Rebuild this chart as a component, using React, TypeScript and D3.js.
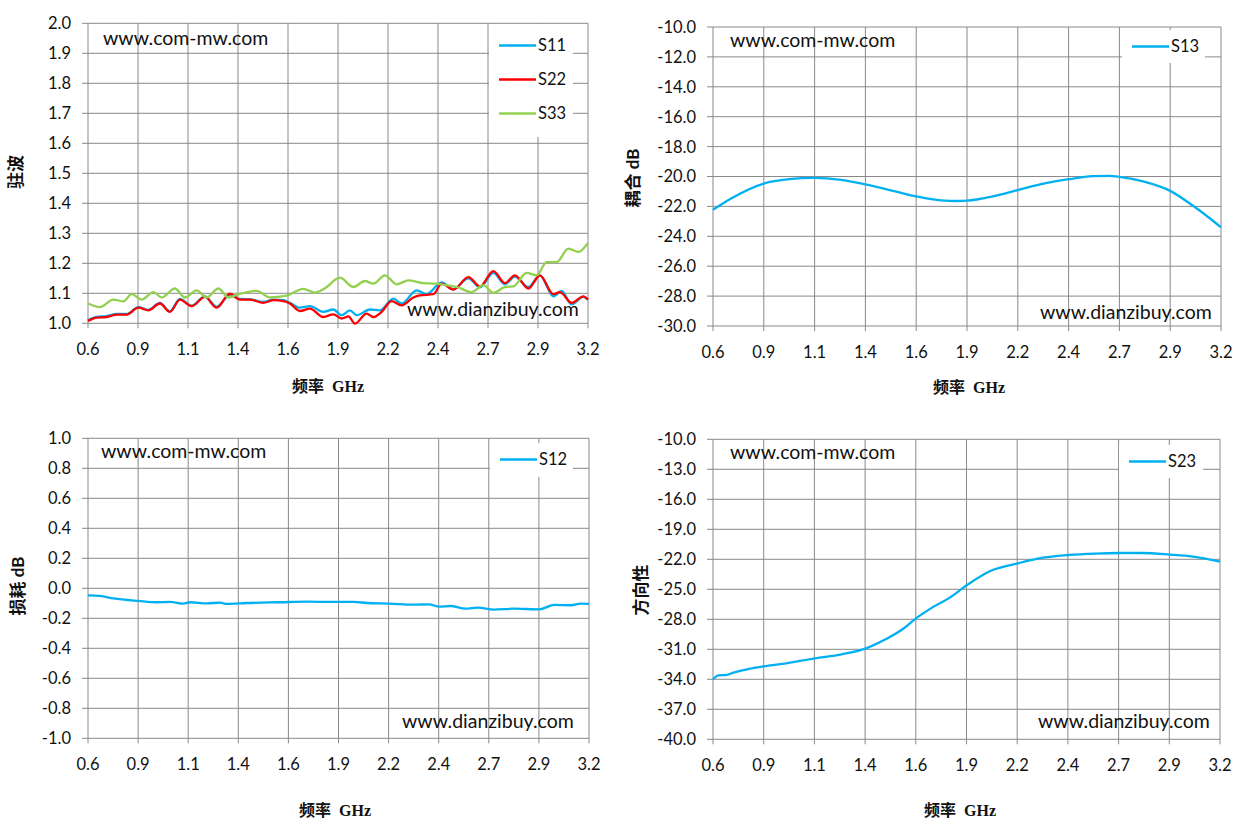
import { useEffect, useRef } from 'react'
import * as d3 from 'd3'

// S11 / S22 / S33 standing wave (VSWR)
const s11Freq = [0.600, 0.645, 0.697, 0.749, 0.801, 0.862, 0.914, 0.974, 1.026, 1.078, 1.139, 1.208, 1.269, 1.338, 1.390, 1.442, 1.512, 1.564, 1.616, 1.650, 1.702, 1.754, 1.824, 1.876, 1.919, 1.962, 1.997, 2.066, 2.118, 2.188, 2.231, 2.309, 2.361, 2.439, 2.500, 2.578, 2.638, 2.708, 2.768, 2.820, 2.890, 2.950, 3.020, 3.063, 3.115, 3.176, 3.200]
const s11Vals = [1.010, 1.021, 1.024, 1.031, 1.031, 1.054, 1.045, 1.068, 1.040, 1.081, 1.059, 1.090, 1.055, 1.095, 1.081, 1.080, 1.071, 1.079, 1.077, 1.068, 1.052, 1.057, 1.038, 1.046, 1.027, 1.043, 1.027, 1.046, 1.043, 1.082, 1.066, 1.110, 1.097, 1.136, 1.114, 1.150, 1.120, 1.168, 1.130, 1.156, 1.121, 1.160, 1.090, 1.108, 1.063, 1.088, 1.079]

const s22Freq = [0.600, 0.645, 0.697, 0.749, 0.801, 0.862, 0.914, 0.974, 1.026, 1.078, 1.139, 1.208, 1.269, 1.338, 1.390, 1.442, 1.512, 1.564, 1.616, 1.650, 1.702, 1.754, 1.824, 1.876, 1.919, 1.954, 1.988, 2.049, 2.084, 2.127, 2.179, 2.231, 2.292, 2.326, 2.396, 2.439, 2.500, 2.578, 2.638, 2.708, 2.768, 2.820, 2.890, 2.950, 3.020, 3.054, 3.115, 3.176, 3.200]
const s22Vals = [1.008, 1.019, 1.021, 1.029, 1.029, 1.052, 1.043, 1.066, 1.038, 1.079, 1.057, 1.088, 1.052, 1.099, 1.079, 1.079, 1.068, 1.077, 1.074, 1.066, 1.041, 1.049, 1.021, 1.030, 1.016, 1.023, 0.999, 1.032, 1.021, 1.038, 1.074, 1.060, 1.086, 1.093, 1.097, 1.132, 1.112, 1.154, 1.123, 1.174, 1.134, 1.160, 1.116, 1.160, 1.097, 1.104, 1.068, 1.090, 1.079]

const s33Freq = [0.600, 0.662, 0.732, 0.784, 0.827, 0.879, 0.940, 0.983, 1.052, 1.104, 1.165, 1.217, 1.278, 1.330, 1.382, 1.477, 1.546, 1.633, 1.720, 1.780, 1.830, 1.910, 1.980, 2.040, 2.084, 2.144, 2.205, 2.266, 2.344, 2.413, 2.465, 2.518, 2.595, 2.656, 2.708, 2.768, 2.812, 2.881, 2.933, 2.985, 3.037, 3.098, 3.150, 3.200]
const s33Vals = [1.066, 1.054, 1.079, 1.073, 1.097, 1.079, 1.104, 1.086, 1.116, 1.086, 1.110, 1.086, 1.116, 1.086, 1.097, 1.108, 1.086, 1.092, 1.115, 1.102, 1.116, 1.152, 1.121, 1.141, 1.132, 1.160, 1.130, 1.143, 1.134, 1.132, 1.127, 1.121, 1.104, 1.127, 1.101, 1.121, 1.123, 1.168, 1.160, 1.204, 1.204, 1.249, 1.238, 1.268]

// S13 coupling
const s13Freq = [0.6, 0.702, 0.86, 0.989, 1.12, 1.255, 1.38, 1.521, 1.64, 1.767, 1.849, 1.9, 2.033, 2.16, 2.279, 2.42, 2.545, 2.627, 2.68, 2.811, 2.94, 3.057, 3.139, 3.2]
const s13Vals = [-22.22, -21.4, -20.47, -20.18, -20.09, -20.22, -20.53, -20.96, -21.33, -21.6, -21.64, -21.62, -21.33, -20.91, -20.51, -20.18, -19.98, -19.96, -20.02, -20.36, -20.96, -21.96, -22.76, -23.4]

// S12 insertion loss
const s12Freq = [0.600, 0.662, 0.732, 0.862, 0.957, 1.026, 1.096, 1.130, 1.217, 1.286, 1.321, 1.425, 1.598, 1.737, 1.876, 1.980, 2.049, 2.162, 2.292, 2.370, 2.422, 2.482, 2.560, 2.621, 2.708, 2.812, 2.942, 3.020, 3.106, 3.158, 3.200]
const s12Vals = [-0.047, -0.051, -0.067, -0.084, -0.093, -0.091, -0.102, -0.093, -0.100, -0.096, -0.104, -0.098, -0.093, -0.089, -0.091, -0.091, -0.098, -0.102, -0.109, -0.107, -0.122, -0.118, -0.136, -0.129, -0.142, -0.136, -0.140, -0.111, -0.113, -0.102, -0.104]

// S23 directivity
const s23Freq = [0.6, 0.628, 0.671, 0.706, 0.792, 0.862, 0.966, 1.123, 1.26, 1.385, 1.485, 1.572, 1.641, 1.71, 1.814, 1.903, 2.022, 2.164, 2.265, 2.426, 2.559, 2.682, 2.802, 2.944, 3.061, 3.2]
const s23Vals = [-34.0, -33.6, -33.55, -33.33, -32.93, -32.7, -32.43, -31.9, -31.5, -30.9, -30.0, -29.0, -27.9, -27.0, -25.83, -24.57, -23.17, -22.4, -21.93, -21.57, -21.43, -21.37, -21.37, -21.53, -21.73, -22.23]

const freqTicks = d3.range(11).map((i) => 0.6 + i * 0.26)

const BLUE = '#00B0F0'
const RED = '#FF0000'
const GREEN = '#92D050'
const GRID = '#898989'
const LATIN = "Lato, 'Noto Sans', sans-serif"

interface Series { name: string; freq: number[]; vals: number[]; color: string }
interface Panel {
  left: number; right: number; top: number; bottom: number
  yDomain: [number, number]; yStep: number
  yTitle: string; yTitlePos: [number, number]; yTitleSerif: boolean
  xTitlePos: [number, number]
  series: Series[]
  legend: { x: number; y: number; w: number; h: number }
  mark1: [number, number]; mark2: [number, number]
}

const panels: Panel[] = [
  {
    left: 88, right: 588, top: 23.3, bottom: 323.3, yDomain: [1, 2], yStep: 0.1,
    yTitle: '驻波', yTitlePos: [16, 172], yTitleSerif: true, xTitlePos: [328, 386],
    series: [
      { name: 'S11', freq: s11Freq, vals: s11Vals, color: BLUE },
      { name: 'S22', freq: s22Freq, vals: s22Vals, color: RED },
      { name: 'S33', freq: s33Freq, vals: s33Vals, color: GREEN },
    ],
    legend: { x: 489, y: 24, w: 84, h: 113 },
    mark1: [103, 45], mark2: [407, 316],
  },
  {
    left: 713, right: 1221, top: 27, bottom: 326, yDomain: [-30, -10], yStep: 2,
    yTitle: '耦合 dB', yTitlePos: [633, 178], yTitleSerif: false, xTitlePos: [969, 387],
    series: [{ name: 'S13', freq: s13Freq, vals: s13Vals, color: BLUE }],
    legend: { x: 1122, y: 30, w: 83, h: 33 },
    mark1: [730, 47], mark2: [1040, 319],
  },
  {
    left: 88, right: 589, top: 438.3, bottom: 738.3, yDomain: [-1, 1], yStep: 0.2,
    yTitle: '损耗 dB', yTitlePos: [18, 586], yTitleSerif: false, xTitlePos: [335, 810],
    series: [{ name: 'S12', freq: s12Freq, vals: s12Vals, color: BLUE }],
    legend: { x: 490, y: 443, w: 83, h: 34 },
    mark1: [101, 458], mark2: [402, 728],
  },
  {
    left: 713, right: 1220, top: 439.3, bottom: 739.3, yDomain: [-40, -10], yStep: 3,
    yTitle: '方向性', yTitlePos: [641, 590], yTitleSerif: true, xTitlePos: [960, 810],
    series: [{ name: 'S23', freq: s23Freq, vals: s23Vals, color: BLUE }],
    legend: { x: 1119, y: 445, w: 84, h: 33 },
    mark1: [730, 459], mark2: [1038, 728],
  },
]

// plain hyphen minus, like the original
const fmt = (d: number) => (Math.abs(d) < 1e-9 ? 0 : d).toFixed(1)

export default function App() {
  const svgRef = useRef<SVGSVGElement>(null)

  useEffect(() => {
    if (!svgRef.current) return
    const svg = d3.select(svgRef.current)
    svg.selectAll('*').remove()

    svg.append('rect').attr('width', 1245).attr('height', 835).attr('fill', '#fff')

    panels.forEach((p) => {
      const x = d3.scaleLinear().domain([0.6, 3.2]).range([p.left, p.right])
      const y = d3.scaleLinear().domain(p.yDomain).range([p.bottom, p.top])
      const n = Math.round((p.yDomain[1] - p.yDomain[0]) / p.yStep)
      const yTicks = d3.range(n + 1).map((i) => p.yDomain[0] + i * p.yStep)
      const g = svg.append('g')

      // grid
      g.selectAll('.hg').data(yTicks).enter().append('line')
        .attr('x1', p.left - 6).attr('x2', p.right)
        .attr('y1', (d) => y(d)).attr('y2', (d) => y(d))
        .attr('stroke', GRID).attr('stroke-width', 1)
      g.selectAll('.vg').data(freqTicks).enter().append('line')
        .attr('x1', (d) => x(d)).attr('x2', (d) => x(d))
        .attr('y1', p.top).attr('y2', p.bottom + 5)
        .attr('stroke', GRID).attr('stroke-width', 1)

      // tick labels
      g.selectAll('.yl').data(yTicks).enter().append('text')
        .attr('x', p.left - 17).attr('y', (d) => y(d))
        .attr('dy', '0.36em').attr('text-anchor', 'end')
        .attr('font-family', LATIN).attr('font-size', 16.5).attr('fill', '#111')
        .text((d) => fmt(d))
      g.selectAll('.xl').data(freqTicks).enter().append('text')
        .attr('x', (d) => x(d)).attr('y', p.bottom + 26)
        .attr('dy', '0.36em').attr('text-anchor', 'middle')
        .attr('font-family', LATIN).attr('font-size', 16.5).attr('fill', '#111')
        .text((d) => fmt(d))

      // axis titles
      g.append('text')
        .attr('x', p.xTitlePos[0]).attr('y', p.xTitlePos[1]).attr('dy', '0.36em')
        .attr('text-anchor', 'middle').attr('font-weight', 'bold').attr('font-size', 16)
        .attr('font-family', "'Liberation Serif', 'Noto Sans CJK SC', serif").attr('fill', '#111')
        .attr('xml:space', 'preserve')
        .text('频率  GHz')
      g.append('text')
        .attr('transform', `translate(${p.yTitlePos[0]},${p.yTitlePos[1]}) rotate(-90)`)
        .attr('dy', '0.36em').attr('text-anchor', 'middle')
        .attr('font-weight', 'bold').attr('font-size', 17)
        .attr('font-family', p.yTitleSerif ? "'Noto Sans CJK SC', serif" : "Lato, 'Noto Sans CJK SC', sans-serif")
        .attr('fill', '#111')
        .text(p.yTitle)

      // series
      const line = d3.line<[number, number]>()
        .x((d) => x(d[0])).y((d) => y(d[1]))
        .curve(d3.curveMonotoneX)
      p.series.forEach((s) => {
        const data = s.freq.map((f, i) => [f, s.vals[i]] as [number, number])
        g.append('path').datum(data)
          .attr('fill', 'none').attr('stroke', s.color).attr('stroke-width', 2.3)
          .attr('stroke-linejoin', 'round').attr('d', line)
      })

      // watermarks
      g.append('text').attr('x', p.mark1[0]).attr('y', p.mark1[1])
        .attr('font-family', LATIN).attr('font-size', 19.5).attr('fill', '#111')
        .text('www.com-mw.com')
      g.append('text').attr('x', p.mark2[0]).attr('y', p.mark2[1])
        .attr('font-family', LATIN).attr('font-size', 19.5).attr('fill', '#111')
        .text('www.dianzibuy.com')

      // legend
      const lg = g.append('g')
      lg.append('rect')
        .attr('x', p.legend.x).attr('y', p.legend.y)
        .attr('width', p.legend.w).attr('height', p.legend.h).attr('fill', '#fff')
      p.series.forEach((s, i) => {
        const cy = p.legend.y + 21.5 + i * 34 - (p.series.length === 1 ? 5 : 0)
        lg.append('line')
          .attr('x1', p.legend.x + 10).attr('x2', p.legend.x + 47)
          .attr('y1', cy).attr('y2', cy)
          .attr('stroke', s.color).attr('stroke-width', 2.4)
        lg.append('text')
          .attr('x', p.legend.x + 49).attr('y', cy).attr('dy', '0.36em')
          .attr('font-family', LATIN).attr('font-size', 16.5).attr('fill', '#111')
          .text(s.name)
      })
    })
  }, [])

  return (
    <div style={{ position: 'absolute', left: 0, top: 0 }}>
      <svg ref={svgRef} width={1245} height={835} style={{ display: 'block' }}></svg>
    </div>
  )
}
